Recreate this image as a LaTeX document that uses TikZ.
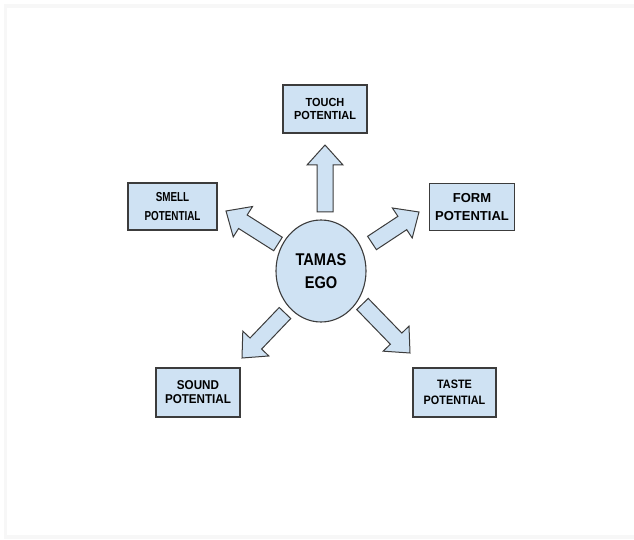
\documentclass[tikz,border=0pt]{standalone}
\usepackage{fontspec}
\setmainfont{Liberation Sans}
\usetikzlibrary{calc,shapes.geometric}
\definecolor{boxfill}{HTML}{CFE2F3}
\definecolor{boxline}{HTML}{3C3C3C}
\definecolor{framegray}{HTML}{F7F7F7}
\newcommand\txtfont[3]{\bfseries\fontsize{#1}{#2}\selectfont\addfontfeature{FakeStretch=#3}}
\tikzset{
  potbox/.style={draw=boxline, fill=boxfill, line width=1.1pt, rectangle, minimum height=48pt, align=center, inner sep=0pt},
  egonode/.style={draw=boxline, fill=boxfill, line width=1.1pt, ellipse, minimum width=90pt, minimum height=102pt, align=center, inner sep=0pt},
  arrowbody/.style={draw=boxline, fill=boxfill, line width=1pt, line join=miter}
}
\newcommand\blockarrow[2]{%
  \coordinate (#1h) at ($(#2)!20pt!(#1)$);
  \draw[arrowbody] ($(#1)!8pt!90:(#2)$) -- ($(#1h)!8pt!90:(#2)$) -- ($(#1h)!18pt!90:(#2)$) -- (#2)
    -- ($(#1h)!18pt!-90:(#2)$) -- ($(#1h)!8pt!-90:(#2)$) -- ($(#1)!8pt!-90:(#2)$) -- cycle;
}
\begin{document}
\begin{tikzpicture}[x=1pt,y=1pt]
\useasboundingbox (0,0) rectangle (634,539);
% faint frame
\fill[framegray] (3.7,531.3) rectangle (634,535);
\fill[framegray] (3.7,0) rectangle (7,535);
\fill[framegray] (3.7,0) rectangle (634,4);

\node[egonode, font=\txtfont{17}{23.4}{0.86}] (ego) at (321,268) {TAMAS\\EGO};
\node[potbox, minimum width=84pt, font=\txtfont{11.7}{13.3}{0.935}] (touch) at (325,430) {TOUCH\\POTENTIAL};
\node[potbox, minimum width=89pt, minimum height=47pt, font=\txtfont{13}{19}{0.76}] (smell) at (172.5,332.5) {SMELL\\POTENTIAL};
\node[potbox, minimum width=85pt, minimum height=47pt, font=\txtfont{13}{17.3}{1.0}] (form) at (472,332) {FORM\\POTENTIAL};
\node[potbox, minimum width=84pt, minimum height=49pt, font=\txtfont{12.8}{14}{0.91}] (sound) at (198,146.5) {SOUND\\POTENTIAL};
\node[potbox, minimum width=83pt, minimum height=49pt, font=\txtfont{12.2}{16}{0.89}] (taste) at (454.5,146.5) {TASTE\\POTENTIAL};

% arrow tails and tips
\coordinate (ua) at (325,327);   \coordinate (ub) at (325,394);
\coordinate (sa) at (278,295);   \coordinate (sb) at (226,328);
\coordinate (fa) at (372,296);   \coordinate (fb) at (419,327);
\coordinate (da) at (285,226);   \coordinate (db) at (242,181);
\coordinate (ta) at (362.5,235); \coordinate (tb) at (410,186);
\blockarrow{ua}{ub}
\blockarrow{sa}{sb}
\blockarrow{fa}{fb}
\blockarrow{da}{db}
\blockarrow{ta}{tb}
\end{tikzpicture}
\end{document}
